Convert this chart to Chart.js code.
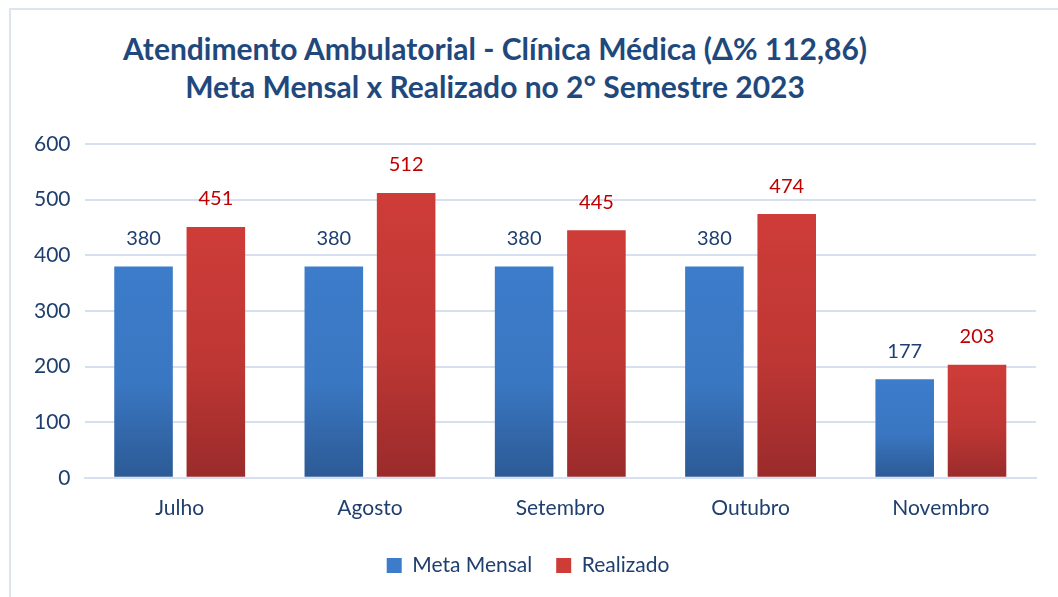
<!DOCTYPE html>
<html lang="pt">
<head>
<meta charset="UTF-8">
<title>Atendimento Ambulatorial - Clínica Médica</title>
<script src="https://cdn.jsdelivr.net/npm/chart.js"></script>
<style>
  body { margin: 0; background: #fff; font-family: Lato, sans-serif; }
  .frame { position: absolute; left: 9px; top: 8px; width: 1100px; height: 700px; border: 2px solid #DDE4EE; }
  .title { position: absolute; left: 0; top: 29px; width: 990px; text-align: center;
           font: bold 30px Lato, sans-serif; color: #1F497D; line-height: 38px; }
  .wrap { position: absolute; left: 0; top: 0; width: 1058px; height: 597px; }
</style>
</head>
<body>
<div class="frame"></div>
<div class="title">Atendimento Ambulatorial - Clínica Médica (Δ% 112,86)<br>Meta Mensal x Realizado no 2° Semestre 2023</div>
<div class="wrap"><canvas id="grafico"></canvas></div>

<script>
const meses = ['Julho', 'Agosto', 'Setembro', 'Outubro', 'Novembro'];
const metaMensal = [380, 380, 380, 380, 177];
const realizado = [451, 512, 445, 474, 203];

const azul = { top: '#3C7CCA', mid: '#3A77C2', bottom: '#2C5A95', label: '#1F3F6E' };
const vermelho = { top: '#CE3C38', mid: '#BE3734', bottom: '#9A2B2B', label: '#C00000' };

// gradient per bar, like the Excel fill
function barFill(cores) {
  return function (ctx) {
    const chart = ctx.chart;
    if (ctx.type !== 'data' || !chart.chartArea) return cores.top;
    const y = chart.scales.y;
    const y0 = y.getPixelForValue(0);
    const y1 = y.getPixelForValue(ctx.raw);
    const g = chart.ctx.createLinearGradient(0, y1, 0, y0);
    g.addColorStop(0, cores.top);
    g.addColorStop(0.55, cores.mid);
    g.addColorStop(1, cores.bottom);
    return g;
  };
}

// values above bars
const rotulos = {
  id: 'rotulos',
  afterDatasetsDraw(chart) {
    const ctx = chart.ctx;
    ctx.save();
    ctx.font = '20px Lato, sans-serif';
    ctx.textAlign = 'center';
    ctx.textBaseline = 'bottom';
    chart.data.datasets.forEach((ds, i) => {
      chart.getDatasetMeta(i).data.forEach((bar, j) => {
        ctx.fillStyle = ds.labelColor;
        ctx.fillText(ds.data[j], bar.x, bar.y - 18);
      });
    });
    ctx.restore();
  }
};

new Chart(document.getElementById('grafico'), {
  type: 'bar',
  data: {
    labels: meses,
    datasets: [
      { label: 'Meta Mensal', data: metaMensal, backgroundColor: barFill(azul), labelColor: azul.label },
      { label: 'Realizado', data: realizado, backgroundColor: barFill(vermelho), labelColor: vermelho.label }
    ]
  },
  options: {
    responsive: true,
    maintainAspectRatio: false,
    animation: false,
    categoryPercentage: 0.76,
    barPercentage: 0.81,
    layout: { padding: { top: 144, left: 20, right: 22, bottom: 11 } },
    scales: {
      x: {
        grid: { display: false },
        border: { color: '#D6E0F0', width: 2 },
        ticks: { color: '#1F3F6E', font: { family: 'Lato', size: 21 }, padding: 10 }
      },
      y: {
        min: 0, max: 600,
        ticks: { stepSize: 100, color: '#1F3F6E', font: { family: 'Lato', size: 21 }, padding: 14 },
        grid: { color: '#D6E0F0', lineWidth: 2, drawTicks: false },
        border: { display: false }
      }
    },
    plugins: {
      legend: {
        position: 'bottom',
        labels: {
          color: '#1F3F6E',
          font: { family: 'Lato', size: 21 },
          boxWidth: 15, boxHeight: 15,
          padding: 24,
          generateLabels(chart) {
            const cores = [azul, vermelho];
            return chart.data.datasets.map((ds, i) => ({
              text: ds.label, fillStyle: cores[i].top, strokeStyle: cores[i].top,
              lineWidth: 0, fontColor: '#1F3F6E', datasetIndex: i, hidden: false
            }));
          }
        }
      },
      tooltip: { enabled: false }
    }
  },
  plugins: [rotulos]
});
</script>
</body>
</html>
